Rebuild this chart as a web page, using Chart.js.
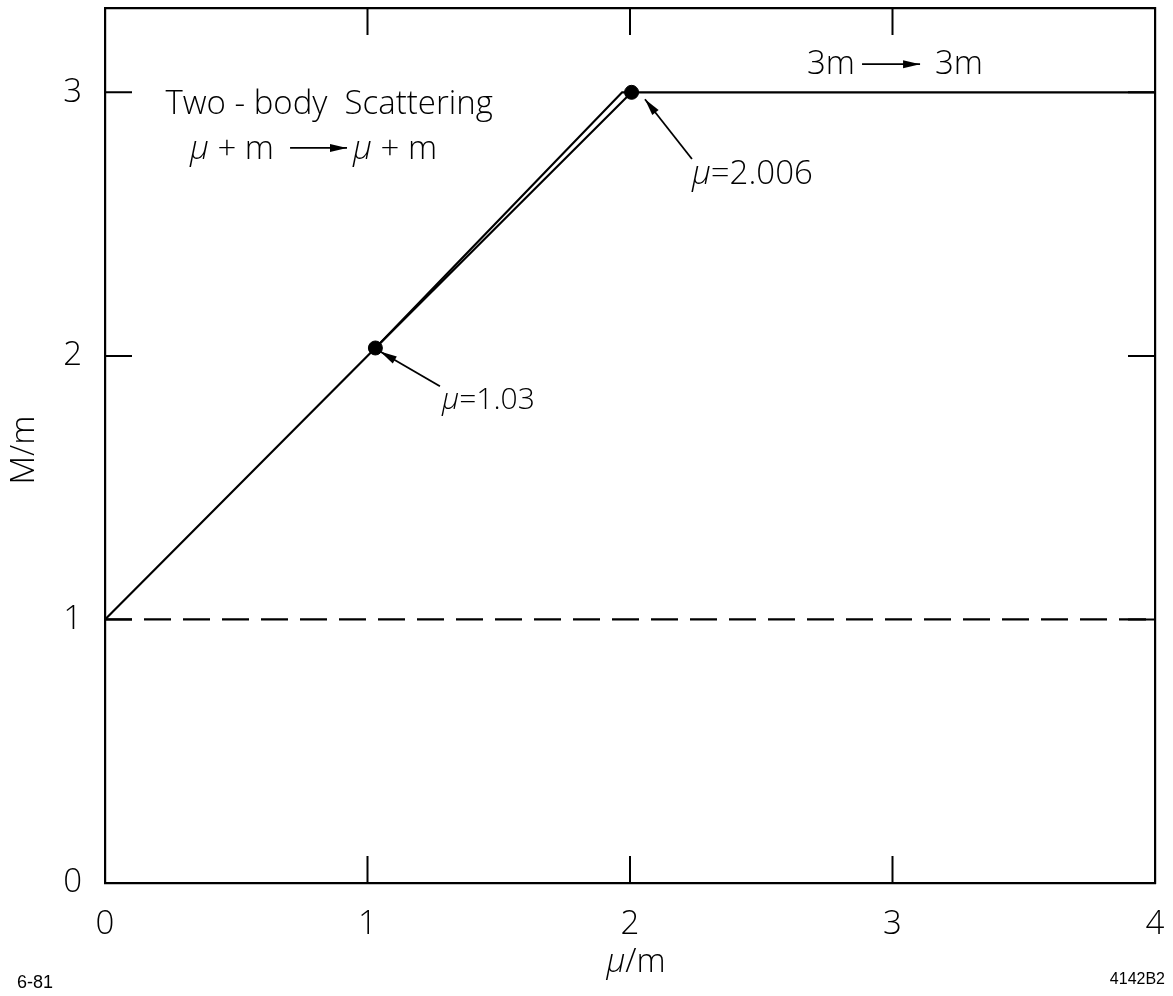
<!DOCTYPE html>
<html>
<head>
<meta charset="utf-8">
<script src="https://cdn.jsdelivr.net/npm/chart.js@4.4.1/dist/chart.umd.min.js"></script>
<style>
  html, body { margin:0; padding:0; background:#fff; }
  #wrap { width:1173px; height:996px; position:relative; }
</style>
</head>
<body>
<div id="wrap"><canvas id="chart" width="1173" height="996"></canvas></div>
<script>
// axis ticks
const xTicks = [0, 1, 2, 3, 4];
const yTicks = [0, 1, 2, 3];

// M/m versus mu/m
const lineMain  = [{x:0, y:1}, {x:1.03, y:2.03}, {x:2.006, y:3}, {x:4, y:3}];
const lineOuter = [{x:1.03, y:2.03}, {x:1.97, y:3.0}, {x:2.006, y:3}];
const threshold = [{x:0, y:1}, {x:4, y:1}];
const marked    = [{x:1.03, y:2.03}, {x:2.006, y:3}];

const FONT = '"Open Sans", "Liberation Sans", sans-serif';
const W = '300';

// draws a list of [text, italic] pieces starting at px,py (baseline)
function drawPieces(ctx, pieces, px, py, size) {
    let cx = px;
    pieces.forEach(function(p) {
        ctx.font = (p[1] ? 'italic ' : '') + W + ' ' + size + 'px ' + FONT;
        ctx.fillText(p[0], cx, py);
        cx += ctx.measureText(p[0]).width;
    });
    return cx;
}

function arrow(ctx, x1, y1, x2, y2, head, half) {
    ctx.beginPath(); ctx.moveTo(x1, y1); ctx.lineTo(x2, y2); ctx.stroke();
    const ang = Math.atan2(y2 - y1, x2 - x1);
    ctx.beginPath();
    ctx.moveTo(x2, y2);
    ctx.lineTo(x2 - head * Math.cos(ang) + half * Math.sin(ang), y2 - head * Math.sin(ang) - half * Math.cos(ang));
    ctx.lineTo(x2 - head * Math.cos(ang) - half * Math.sin(ang), y2 - head * Math.sin(ang) + half * Math.cos(ang));
    ctx.closePath(); ctx.fill();
}

function noPad(s) { s.paddingTop = 0; s.paddingBottom = 0; s.paddingLeft = 0; s.paddingRight = 0; }

const annotPlugin = {
    id: 'annot',
    afterDraw(chart) {
        const ctx = chart.ctx, a = chart.chartArea;
        const X = v => chart.scales.x.getPixelForValue(v);
        const Y = v => chart.scales.y.getPixelForValue(v);
        ctx.save();
        ctx.strokeStyle = '#000'; ctx.fillStyle = '#000'; ctx.lineWidth = 2;
        // inward tick marks on all four sides
        xTicks.slice(1, -1).forEach(function(v) {
            ctx.beginPath();
            ctx.moveTo(X(v), a.bottom); ctx.lineTo(X(v), a.bottom - 27);
            ctx.moveTo(X(v), a.top); ctx.lineTo(X(v), a.top + 27);
            ctx.stroke();
        });
        yTicks.slice(1).forEach(function(v) {
            ctx.beginPath();
            ctx.moveTo(a.left, Y(v)); ctx.lineTo(a.left + 27, Y(v));
            ctx.moveTo(a.right, Y(v)); ctx.lineTo(a.right - 27, Y(v));
            ctx.stroke();
        });

        ctx.textBaseline = 'alphabetic'; ctx.textAlign = 'left';
        drawPieces(ctx, [['Two - body  Scattering', false]], X(0.23), Y(2.918), 33);
        drawPieces(ctx, [['μ', true], [' + m', false]], X(0.324), Y(2.747), 33);
        ctx.lineWidth = 1.8;
        arrow(ctx, X(0.705), Y(2.789), X(0.922), Y(2.789), 17, 4);
        drawPieces(ctx, [['μ', true], [' + m', false]], X(0.945), Y(2.747), 33);

        drawPieces(ctx, [['3m', false]], X(2.674), Y(3.069), 33);
        arrow(ctx, X(2.884), Y(3.107), X(3.105), Y(3.107), 17, 4);
        drawPieces(ctx, [['3m', false]], X(3.162), Y(3.069), 33);

        drawPieces(ctx, [['μ', true], ['=2.006', false]], X(2.236), Y(2.653), 33);
        arrow(ctx, X(2.236), Y(2.747), X(2.057), Y(2.974), 17, 4);

        drawPieces(ctx, [['μ', true], ['=1.03', false]], X(1.284), Y(1.797), 30);
        arrow(ctx, X(1.276), Y(1.885), X(1.048), Y(2.017), 17, 4);

        // axis titles
        ctx.font = 'italic ' + W + ' 33px ' + FONT;
        const mu = ctx.measureText('μ').width;
        ctx.font = W + ' 33px ' + FONT;
        const rest = ctx.measureText('/m').width;
        ctx.textBaseline = 'middle'; ctx.textAlign = 'left';
        drawPieces(ctx, [['μ', true], ['/m', false]], 636 - (mu + rest) / 2, 963, 33);
        ctx.save();
        ctx.translate(25, 450); ctx.rotate(-Math.PI / 2);
        ctx.textAlign = 'center';
        ctx.font = W + ' 33px ' + FONT;
        ctx.fillText('M/m', 0, 0);
        ctx.restore();

        // plate markings
        ctx.textBaseline = 'alphabetic';
        ctx.font = '18px "Liberation Sans", sans-serif';
        ctx.textAlign = 'left';
        ctx.fillText('6-81', 17, 988);
        ctx.font = '16px "Liberation Sans", sans-serif';
        ctx.textAlign = 'right';
        ctx.fillText('4142B2', 1165, 984);
        ctx.restore();
    }
};

const tickFont = { family: FONT, size: 33, weight: W };

new Chart(document.getElementById('chart'), {
    type: 'scatter',
    data: {
        datasets: [
            { data: threshold, showLine: true, borderColor: '#000', borderWidth: 2.2, borderDash: [27, 12], pointRadius: 0 },
            { data: lineMain, showLine: true, borderColor: '#000', borderWidth: 2.2, pointRadius: 0 },
            { data: lineOuter, showLine: true, borderColor: '#000', borderWidth: 2.2, pointRadius: 0 },
            { data: marked, showLine: false, pointRadius: 7, pointBackgroundColor: '#000', pointBorderColor: '#000' }
        ]
    },
    options: {
        responsive: false,
        animation: false,
        layout: { padding: 0 },
        plugins: { legend: { display: false }, tooltip: { enabled: false } },
        scales: {
            x: {
                type: 'linear', position: 'bottom', min: 0, max: 4,
                afterBuildTicks: s => { s.ticks = xTicks.map(v => ({ value: v })); },
                afterFit: s => { s.height = 113; noPad(s); },
                grid: { display: false, drawTicks: false },
                border: { display: true, color: '#000', width: 2.2 },
                ticks: { color: '#000', font: tickFont, padding: 22, maxRotation: 0, autoSkip: false }
            },
            x2: {
                type: 'linear', position: 'top', min: 0, max: 4,
                afterFit: s => { s.height = 6; noPad(s); },
                grid: { display: false, drawTicks: false },
                border: { display: true, color: '#000', width: 2.2 },
                ticks: { display: false }
            },
            y: {
                type: 'linear', position: 'left', min: 0, max: 3.32,
                afterBuildTicks: s => { s.ticks = yTicks.map(v => ({ value: v })); },
                afterFit: s => { s.width = 105; noPad(s); },
                grid: { display: false, drawTicks: false },
                border: { display: true, color: '#000', width: 2.2 },
                ticks: { color: '#000', font: tickFont, padding: 23 }
            },
            y2: {
                type: 'linear', position: 'right', min: 0, max: 3.32,
                afterFit: s => { s.width = 18; noPad(s); },
                grid: { display: false, drawTicks: false },
                border: { display: true, color: '#000', width: 2.2 },
                ticks: { display: false }
            }
        }
    },
    plugins: [annotPlugin]
});
</script>
</body>
</html>
